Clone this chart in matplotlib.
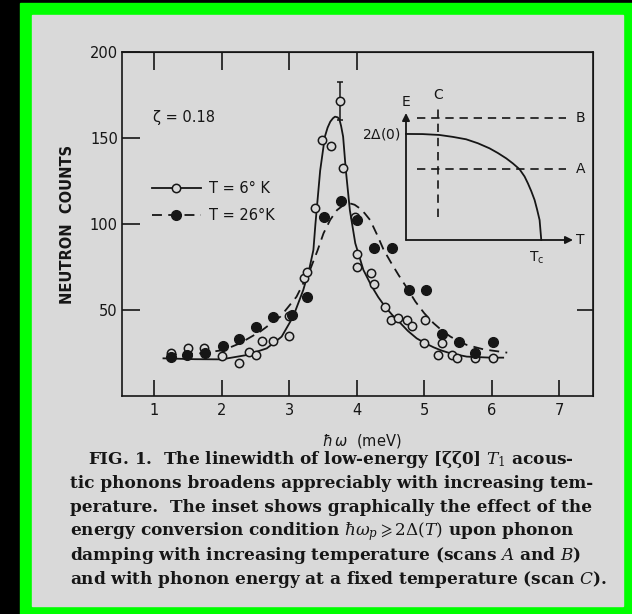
import matplotlib
matplotlib.use("Agg")
import matplotlib.pyplot as plt
from matplotlib.patches import Rectangle
from matplotlib.lines import Line2D

# --- scan at T = 6 K (open circles) ---
x_6k = [1.25, 1.50, 1.74, 2.00, 2.26, 2.41, 2.51, 2.60, 2.76, 3.00, 3.00,
        3.22, 3.27, 3.39, 3.49, 3.62, 3.80, 3.97, 4.00, 4.01, 4.21, 4.26,
        4.42, 4.51, 4.62, 4.75, 4.82, 5.00, 5.01, 5.20, 5.26, 5.41, 5.49,
        5.76, 6.02]
y_6k = [24.8, 27.7, 28.1, 23.3, 19.0, 25.8, 23.8, 32.2, 32.2, 46.5, 34.9,
        68.4, 72.0, 109.1, 148.8, 145.6, 132.8, 104.0, 75.2, 82.4, 71.7, 64.9,
        51.6, 44.2, 45.5, 44.2, 40.7, 31.0, 44.2, 23.8, 31.0, 23.8, 21.9,
        21.9, 21.9]
# peak point with its error bar
peak_x, peak_y, peak_err = 3.755, 171.3, 11.0

# --- scan at T = 26 K (filled circles) ---
x_26k = [1.25, 1.49, 1.76, 2.02, 2.26, 2.51, 2.76, 3.05, 3.26, 3.51, 3.77,
         4.01, 4.26, 4.52, 4.77, 5.02, 5.26, 5.51, 5.76, 6.02]
y_26k = [22.9, 23.8, 24.8, 29.1, 33.1, 40.3, 46.1, 47.1, 57.6, 103.8, 113.2,
         102.3, 85.9, 85.9, 61.9, 61.6, 35.9, 31.6, 24.8, 31.6]

# fitted line shapes
fit6_x = [1.14, 1.60, 2.00, 2.37, 2.67, 2.89, 3.06, 3.21, 3.30, 3.36, 3.39,
          3.46, 3.53, 3.57, 3.61, 3.65, 3.68, 3.72, 3.745, 3.77, 3.80, 3.84,
          3.90, 3.98, 4.10, 4.22, 4.32, 4.42, 4.53, 4.64, 4.76, 4.89, 5.02,
          5.14, 5.26, 5.39, 5.63, 5.98, 6.17]
fit6_y = [21.9, 21.4, 21.3, 23.8, 27.7, 34.5, 46.1, 61.6, 74.0, 84.9, 100.0,
          131.0, 150.8, 156.0, 159.5, 161.5, 162.4, 162.0, 160.8, 157.0, 150.8,
          131.4, 108.0, 88.8, 73.3, 64.0, 57.5, 52.0, 47.0, 42.7, 37.8, 33.5,
          30.6, 28.3, 26.4, 24.8, 22.9, 22.3, 22.3]

fit26_x = [1.19, 1.68, 2.03, 2.27, 2.57, 2.87, 3.11, 3.31, 3.42, 3.51, 3.61,
           3.71, 3.80, 3.90, 3.97, 4.05, 4.12, 4.20, 4.30, 4.40, 4.51, 4.62,
           4.75, 4.87, 5.00, 5.14, 5.26, 5.39, 5.51, 5.63, 5.88, 6.23]
fit26_y = [23.8, 24.8, 26.7, 30.6, 37.4, 46.1, 57.7, 73.3, 84.5, 94.6, 102.5,
           108.1, 110.8, 112.0, 111.2, 109.0, 106.2, 102.3, 94.0, 85.0, 77.5,
           70.4, 62.5, 54.9, 48.2, 42.3, 38.2, 34.5, 31.9, 29.7, 27.1, 25.2]

# --- inset: gap 2Delta(T) sketch, in relative units of the inset frame ---
gap_t = [0.0, 0.10, 0.20, 0.28, 0.36, 0.43, 0.50, 0.55, 0.60, 0.64, 0.68,
         0.71, 0.73, 0.75, 0.77, 0.785, 0.80, 0.81]
gap_e = [0.835, 0.834, 0.827, 0.812, 0.793, 0.762, 0.722, 0.685, 0.643,
         0.603, 0.557, 0.500, 0.446, 0.385, 0.315, 0.240, 0.157, 0.0]
scan_levels = [0.96, 0.56]          # scans B and A (constant energy)
scan_labels = ["B", "A"]
scan_c_temp = 0.19                  # scan C (constant temperature)

caption_lines = [
    "FIG. 1.  The linewidth of low-energy [ζζ0] $T_1$ acous-",
    "tic phonons broadens appreciably with increasing tem-",
    "perature.  The inset shows graphically the effect of the",
    r"energy conversion condition $\hbar\omega_p \geqslant 2\Delta(T)$ upon phonon",
    "damping with increasing temperature (scans $A$ and $B$)",
    "and with phonon energy at a fixed temperature (scan $C$).",
]

ink = "#161616"
paper = "#d9d9d9"
W, H = 632, 614


def fx(px):
    return px / W


def fy(py):
    return 1 - py / H


fig = plt.figure(figsize=(W / 100, H / 100), dpi=100, facecolor="black")
fig.patches.append(Rectangle((fx(20), 0), 1 - fx(20), fy(3), transform=fig.transFigure,
                             color="#00ff00", zorder=-20))
fig.patches.append(Rectangle((fx(32), fy(606)), fx(623) - fx(32), fy(15) - fy(606),
                             transform=fig.transFigure, color=paper, zorder=-10))

ax = fig.add_axes([fx(122), fy(396), fx(593) - fx(122), fy(52) - fy(396)])
ax.set_facecolor("none")
ax.set_xlim(0.526, 7.5)
ax.set_ylim(0, 200)
for sp in ax.spines.values():
    sp.set_color(ink)
    sp.set_linewidth(1.2)

ax.set_xticks(range(1, 8))
ax.set_yticks([50, 100, 150, 200])
ax.tick_params(axis="x", direction="in", length=11.5, width=1.2, color=ink,
               labelsize=10.5, labelcolor=ink, pad=5)
ax.tick_params(axis="y", direction="in", length=13, width=1.2, color=ink,
               labelsize=10.5, labelcolor=ink, pad=3)

top = ax.secondary_xaxis("top")
top.set_xticks([1, 2, 3, 4])
top.set_xticklabels([])
top.tick_params(direction="in", length=13, width=1.2, color=ink)
top.spines["top"].set_color(ink)

right = ax.secondary_yaxis("right")
right.set_yticks([50])
right.set_yticklabels([])
right.tick_params(direction="in", length=11.5, width=1.2, color=ink)
right.spines["right"].set_color(ink)

ax.set_ylabel("NEUTRON  COUNTS", fontsize=10.5, fontweight="bold", color=ink)
ax.yaxis.set_label_coords(-0.1, 0.5)
ax.set_xlabel(r"$\hbar\,\omega$  (meV)", fontsize=10.5, color=ink,
              math_fontfamily="dejavusans")
ax.xaxis.set_label_coords(0.51, -0.105)

ax.plot(fit6_x, fit6_y, "-", color=ink, lw=1.3)
ax.plot(fit26_x, fit26_y, color=ink, lw=1.3, dashes=(5.5, 3.5))
ax.plot(x_6k, y_6k, "o", mfc=paper, mec=ink, ms=6, mew=1.1)
ax.plot(x_26k, y_26k, "o", color=ink, ms=7)
ax.errorbar([peak_x], [peak_y], yerr=peak_err, fmt="o", mfc=paper, mec=ink, ms=6,
            mew=1.1, ecolor=ink, elinewidth=1.1, capsize=2.5, capthick=1.1)

ax.text(0.98, 162, "ζ = 0.18", fontsize=10.5, color=ink, ha="left", va="center")

handles = [
    Line2D([], [], color=ink, lw=1.3, marker="o", mfc=paper, mec=ink, ms=6, mew=1.1),
    Line2D([], [], color=ink, lw=1.3, dashes=(5.5, 3.5), marker="o", mfc=ink, mec=ink, ms=7),
]
leg = ax.legend(handles, ["T = 6° K", "T = 26°K"], loc="upper left",
                bbox_to_anchor=((151.7 - 122) / 471, (396 - 181) / 344),
                frameon=False, fontsize=10.5, handlelength=3.4, handletextpad=0.5,
                labelspacing=0.85, borderaxespad=0, borderpad=0, numpoints=1)
for t in leg.get_texts():
    t.set_color(ink)

# inset sketch
iax = fig.add_axes([fx(406), fy(240), fx(573) - fx(406), fy(113) - fy(240)])
iax.set_xlim(0, 1)
iax.set_ylim(0, 1)
iax.axis("off")
arrow = dict(arrowstyle="-|>", color=ink, lw=1.3, mutation_scale=11, shrinkA=0, shrinkB=0)
iax.annotate("", xy=(0, 1), xytext=(0, 0), arrowprops=arrow, annotation_clip=False)
iax.annotate("", xy=(1, 0), xytext=(0, 0), arrowprops=arrow, annotation_clip=False)
iax.plot(gap_t, gap_e, color=ink, lw=1.3, clip_on=False)
iax.hlines(scan_levels, 0.065, 0.96, colors=ink, lw=1.2, linestyles=(0, (5, 3.5)),
           clip_on=False)
iax.vlines([scan_c_temp], 0.18, 1.06, colors=ink, lw=1.2, linestyles=(0, (5, 3.5)),
           clip_on=False)
for lvl, lab in zip(scan_levels, scan_labels):
    iax.text(1.015, lvl, lab, fontsize=10, color=ink, ha="left", va="center")
iax.text(scan_c_temp, 1.14, "C", fontsize=10, color=ink, ha="center", va="center")
iax.text(0, 1.085, "E", fontsize=10, color=ink, ha="center", va="center")
iax.text(1.02, 0, "T", fontsize=10, color=ink, ha="left", va="center")
iax.text(-0.03, gap_e[0], r"2$\Delta$(0)", fontsize=10, color=ink, ha="right",
         va="center", math_fontfamily="dejavusans")
iax.text(gap_t[-1] - 0.025, -0.14, r"T$_\mathregular{c}$", fontsize=10, color=ink,
         ha="center", va="center")

# caption below the chart
for i, line in enumerate(caption_lines):
    x0 = 88 if i == 0 else 70
    fig.text(fx(x0), fy(460 + 23.8 * i), line, family="DejaVu Serif",
             weight="bold", fontsize=12.2, color=ink, ha="left", va="center",
             math_fontfamily="dejavuserif")

fig.savefig("out.png", dpi=100, facecolor=fig.get_facecolor())
